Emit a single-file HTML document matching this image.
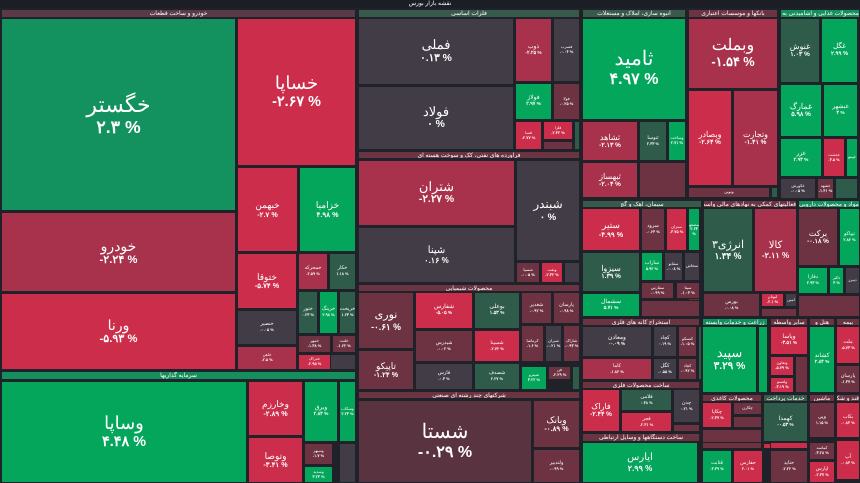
<!DOCTYPE html>
<html><head><meta charset="utf-8">
<style>
html,body{margin:0;padding:0;background:#1f2229;width:860px;height:483px;overflow:hidden}
#map{position:relative;width:860px;height:483px;font-family:"Liberation Sans","Noto Sans CJK SC",sans-serif}
.c{position:absolute;box-sizing:border-box;color:#fff;display:flex;flex-direction:column;align-items:center;justify-content:center;text-align:center;overflow:hidden;line-height:1.15;direction:rtl}
.h{position:absolute;box-sizing:border-box;color:#fff;font-size:6px;text-align:center;overflow:hidden;white-space:nowrap;line-height:8px;direction:rtl}
.v{direction:ltr;font-weight:bold}
</style></head><body>
<div id="map">
<div class="h" style="left:0;top:0;width:860px;height:8px;background:#1b1e25;font-size:6px">نقشه بازار بورس</div>
</div>
<script>
const COL={G:'#13925f',B:'#04a65b',R:'#cc2d4b',D:'#a8314b',M:'#6e3343',K:'#413c45',T:'#2f5c4a',P:'#5a3341'};
// sector headers: [x,y,w,h,color,label]
const headers=[
[1,9,355,9,'#5b3a48','خودرو و ساخت قطعات'],
[1,371,355,9,'#168f5f','سرمایه گذاریها'],
[358,9,222,9,'#385a4a','فلزات اساسی'],
[358,151,222,8,'#6a3443','فراورده های نفتی، کک و سوخت هسته ای'],
[358,284,222,8,'#6a3443','محصولات شیمیایی'],
[358,391,222,8,'#6a3443','شرکتهای چند رشته ای صنعتی'],
[582,9,104,9,'#385a4a','انبوه سازی، املاک و مستغلات'],
[688,9,90,9,'#6a3443','بانکها و موسسات اعتباری'],
[780,9,80,9,'#168f5f','محصولات غذایی و آشامیدنی به جز'],
[582,200,120,8,'#385a4a','سیمان، آهک و گچ'],
[703,200,94,8,'#6a3443','فعالیتهای کمکی به نهادهای مالی واسط'],
[798,200,62,8,'#168f5f','مواد و محصولات دارویی'],
[582,318,118,8,'#6a3443','استخراج کانه های فلزی'],
[582,381,118,8,'#6a3443','ساخت محصولات فلزی'],
[582,433,118,9,'#6a3443','ساخت دستگاهها و وسایل ارتباطی'],
[702,318,66,8,'#168f5f','زراعت و خدمات وابسته'],
[770,318,38,8,'#6a3443','سایر واسطه'],
[809,318,26,8,'#6a3443','هتل و'],
[836,318,24,8,'#6a3443','بیمه'],
[702,394,60,8,'#6a3443','محصولات کاغذی'],
[763,394,45,8,'#385a4a','خدمات پرداخت'],
[809,394,26,8,'#6a3443','ماشین'],
[836,394,24,8,'#6a3443','قند و شکر']
];
// tiles
const names=['خگستر','خساپا','خبهمن','خزامیا','خودرو','ورنا','ختوقا','خمحرکه','خکار','ختور','خرینگ','خریخت','خنصیر','خمهر','خلنت','خاهن','خدراک','وساپا','وخارزم','وتوصا','وبرق','وسکاب','وسپهر','وسدید',
'فملی','فولاد','ذوب','فسرب','فولاژ','فولا','فسا','فلزا','شتران','شپنا','شبندر','شسپا','ونفت','نوری','تاپیکو','شفارس','بوعلی','شغدیر','پارسان','شیدرس','شسپنا','کرماشا','شیران','شاراک','فارس','شصدف','شپترو','فن','شستا','وبانک','ولتدبیر',
'ثامید','ثشاهد','ثنوسا','وساخت','ثبهساز','وبملت','وبصادر','وتجارت','ونوین','غنوش','غگل','غمارگ','غبشهر','غزر','غدشت','غپینو','غکورش','غشهد',
'ستیر','سرود','ستران','سصفها','سیزوا','ساراب','سفانو','سخاش','سشمال','سفارس','سیتا','انرژی۳','کالا','بورس','لبوتان','امین','برکت','تیپاکو','دفارا','دالبر','دیبرز',
'ومعادن','کچاد','کنسکو','کاما','کگل','کچاد','فاراک','فلامی','فجر','چدن','ایارس','سپید','وپاسا','وتعاون','ولصنم','کشاند','ملت','پارسان',
'چکاپا','چکارن','کسرا','کهمدا','وپی','بکاب','قثابت','حفارس','حتاید','آپ','کماسه','اپارس','لپاما'];
const values=['۲.۳','-۲.۶۷','-۲.۷','۴.۹۸','-۲.۲۴','-۵.۹۳','-۵.۷۴','-۲.۵۹','۱.۱۸','۰.۲۳','۲.۹۸','۱.۶۳','-۰.۰۵','-۱.۳۸','-۱.۶۲','-۲.۵','-۲.۹۵','۴.۴۸','-۲.۸۹','-۳.۴۱','۲.۸۴','۲.۲۳','-۱.۷','۳.۲۳',
'۰.۱۳','۰','-۲.۲۵','-۰.۰۴','۲.۹۷','-۰.۲۵','-۲.۷۷','-۲.۴۲','-۲.۲۷','۰.۱۶','۰','-۰.۰۵','-۲.۳۲','-۰.۶۱','-۱.۲۴','-۵.۰۵','۱.۵۳','-۰.۹۲','-۰.۹۸','-۰.۰۲','-۲.۷۲','-۱.۶','-۰.۲۱','-۰.۹۳','-۰.۳','۲.۲۷','۳.۲۲','-۲.۲۹',
'-۰.۲۹','-۰.۸۹','-۰.۹۹',
'۴.۹۷','-۲.۱۳','۲.۳۳','۲.۷۱','-۲.۰۴','-۱.۵۴','-۲.۶۴','-۱.۴۱','','۱.۰۳','۲.۹۹','۵.۹۸','۴','۲.۹۳','-۳.۵','','-۰.۰۵','-۱.۴۱',
'-۴.۹۹','-۰.۶۴','-۳.۷۵','۲.۶۳','۱.۳۹','۵.۹۲','-۰.۰۸','','۵.۷۱','-۰.۹۹','-۱.۰۴','۱.۳۴','-۲.۱۱','-۰.۰۸','-۲.۱','','-۰.۱۸','۲.۸۲','۲.۹۳','۴','',
'-۰.۰۹','۰.۱۹','-۱.۰۵','-۱.۸۲','-۰.۵۵','-۰.۹۲','-۲.۴۴','۰.۴۸','-۲.۳۱','۰.۲۱','۲.۹۹','۳.۲۹','-۳.۵۱','-۵.۷۹','-۳.۱۹','۲.۸۴','-۵.۷۳','-۱.۳۷',
'-۲.۳۷','','-۲.۰۵','-۰.۵۳','۱.۱۵','-۰.۸۴','-۳.۳۹','۲.۰۱','-۲.۲۲','-۰.۸۴','-۳.۲۸','-۲.۳۷','-۳.۸۳'];
// layout rects [x,y,w,h,colorKey,fontSize] (treemap geometry)
const rects=[
[1,18,235,193,'G',22],[237,18,119,148,'R',18],[237,167,61,85,'R',9],[299,167,57,85,'B',9],[1,212,235,80,'D',14],[1,293,235,77,'R',14],[237,253,60,56,'R',9],[298,253,30,37,'D',5],[329,253,27,37,'T',5],[298,291,20,43,'T',5],[319,291,19,43,'B',5],[339,291,17,43,'T',5],[237,310,60,35,'K',5],[298,335,33,18,'M',4],[332,335,24,18,'M',4],[237,346,60,24,'D',4],[298,354,33,16,'R',4],
[1,381,246,102,'B',18],[248,381,55,55,'R',9],[248,437,55,46,'R',9],[304,381,34,61,'B',6],[339,381,17,61,'B',4],[304,443,29,22,'M',4],[304,466,29,17,'B',4],
[358,18,156,67,'K',13],[358,86,156,64,'K',13],[515,18,37,64,'D',6],[553,18,27,64,'K',4],[515,83,37,37,'B',6],[553,83,27,37,'M',4],[515,121,27,29,'R',4],[543,121,30,19,'R',4],
[358,160,157,66,'D',13],[358,227,157,56,'K',10],[516,160,64,101,'K',12],[516,262,24,21,'M',4],[541,262,22,21,'R',4],
[358,292,56,57,'M',11],[358,350,56,40,'M',9],[415,292,58,37,'R',6],[474,292,46,37,'T',6],[521,292,31,32,'M',5],[553,292,27,32,'M',5],[415,330,58,32,'M',5],[474,330,46,32,'R',5],[521,325,23,37,'M',4],[545,325,17,37,'K',4],[563,325,17,37,'M',4],[415,363,58,27,'K',5],[474,363,46,27,'T',5],[521,366,26,24,'B',4],[548,366,23,14,'M',4],
[358,400,174,83,'P',20],[533,400,47,48,'M',9],[533,449,47,34,'M',5],
[582,18,104,102,'B',20],[582,121,56,40,'D',8],[639,121,28,40,'T',5],[668,121,18,40,'B',4],[582,162,56,36,'D',8],[688,18,90,71,'D',16],[688,90,44,96,'R',8],[733,90,45,96,'D',8],[688,187,82,11,'M',4],
[780,18,40,65,'T',8],[821,18,37,65,'B',7],[780,84,42,53,'B',8],[823,84,35,53,'B',6],[780,138,42,39,'B',6],[823,138,22,39,'R',4],[846,138,12,39,'B',4],[780,178,36,21,'K',4],[817,178,17,21,'M',4],
[582,208,58,43,'R',9],[641,208,24,43,'M',5],[666,208,21,43,'R',4],[688,208,12,43,'B',4],[582,252,58,40,'T',8],[641,252,22,29,'B',5],[664,252,19,29,'K',4],[684,252,16,29,'K',4],[582,293,58,24,'B',6],[641,282,33,17,'M',4],
[676,282,24,17,'M',4],[703,208,50,84,'T',11],[754,208,43,84,'D',10],[703,293,57,24,'M',5],[761,293,23,14,'R',4],[785,293,12,14,'K',4],[798,208,40,58,'M',8],[839,208,21,58,'B',5],[798,267,30,27,'B',5],[829,267,15,27,'B',4],[845,267,15,27,'K',4],
[582,326,70,31,'K',6],[653,326,24,31,'K',5],[678,326,19,31,'M',4],[582,358,70,22,'D',5],[653,358,24,22,'K',5],[678,358,19,22,'M',4],
[582,389,38,43,'R',8],[621,389,51,22,'T',5],[621,412,51,20,'R',5],[673,389,27,34,'K',5],[582,442,116,41,'B',10],
[702,326,55,67,'B',13],[770,326,38,29,'R',6],[770,356,24,20,'R',4],[770,377,24,16,'R',4],[809,326,26,67,'B',6],[836,326,24,38,'R',5],[836,365,24,28,'M',5],
[702,402,30,26,'R',5],[733,402,29,13,'M',4],[702,429,30,0,'R',4],[763,402,45,40,'T',6],[809,402,26,36,'M',5],[836,402,24,36,'R',5],[702,450,30,33,'B',5],[733,450,30,33,'R',5],[770,450,38,33,'M',5],[836,440,24,40,'R',5],[809,442,26,18,'M',4],[809,461,26,22,'R',5]
];
// fillers (small unlabeled tiles)
const fillers=[[298,354,58,16,'K'],[543,141,30,9,'M'],[574,121,6,29,'T'],[564,262,16,21,'K'],[572,366,8,24,'T'],[639,162,47,36,'M'],[771,187,7,11,'T'],[835,178,23,21,'T'],[688,293,12,24,'M'],[641,300,59,17,'M'],[798,295,62,22,'M'],[698,326,4,54,'T'],[673,424,27,8,'M'],[758,326,10,67,'B'],[795,356,13,37,'M'],[702,429,60,20,'M'],[733,416,29,12,'M'],[702,442,60,7,'M'],[763,443,45,6,'R'],[809,439,51,2,'K'],[770,442,38,7,'R'],[339,443,17,40,'K'],[304,466,29,17,'B'],[761,308,36,9,'M']];
const map=document.getElementById('map');
for(const f of fillers){
  const d=document.createElement('div');d.className='c';
  d.style.cssText+=`left:${f[0]}px;top:${f[1]}px;width:${f[2]}px;height:${f[3]}px;background:${COL[f[4]]};border:1px solid #1f2229`;
  
  
  map.appendChild(d);
}
rects.forEach((r,i)=>{
  if(r[3]<=0)return;
  const d=document.createElement('div');d.className='c';
  d.style.cssText+=`left:${r[0]}px;top:${r[1]}px;width:${r[2]}px;height:${r[3]}px;background:${COL[r[4]]};border:1px solid #1f2229;font-size:${r[5]}px`;
  
  
  const n=document.createElement('div');n.textContent=names[i]||'';
  
  
  d.appendChild(n);
  if(values[i]){const v=document.createElement('div');v.className='v';v.style.fontSize=Math.max(4,r[5]*0.8)+'px';v.textContent=values[i]+' %';
    
    
    d.appendChild(v);}
  map.appendChild(d);
});
for(const h of headers){
  const d=document.createElement('div');d.className='h';
  d.style.cssText+=`left:${h[0]}px;top:${h[1]}px;width:${h[2]}px;height:${h[3]}px;background:${h[4]};border:1px solid #1f2229`;
  d.textContent=h[5];
  
  
  map.appendChild(d);
}
</script>
</body></html>
